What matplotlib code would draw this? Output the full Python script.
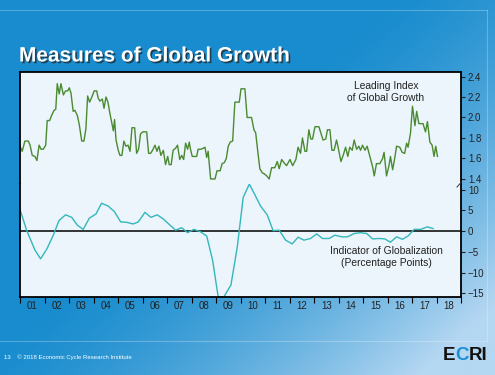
import numpy as np
import matplotlib
matplotlib.use("Agg")
import matplotlib.pyplot as plt
import matplotlib.patheffects as pe
from matplotlib.lines import Line2D

plt.rcParams['font.family'] = ['Liberation Sans', 'DejaVu Sans']

# Leading Index of Global Growth (decimal year, value)
lead_t = [2001.00, 2001.09, 2001.20, 2001.34, 2001.41, 2001.50, 2001.61, 2001.69, 2001.78, 2001.86,
          2001.95, 2002.05, 2002.11, 2002.21, 2002.29, 2002.39, 2002.46, 2002.52, 2002.60, 2002.67,
          2002.77, 2002.86, 2002.95, 2003.01, 2003.08, 2003.17, 2003.24, 2003.34, 2003.42, 2003.52,
          2003.61, 2003.69, 2003.76, 2003.84, 2003.95, 2004.03, 2004.13, 2004.19, 2004.26, 2004.36,
          2004.43, 2004.51, 2004.59, 2004.67, 2004.75, 2004.81, 2004.86, 2004.92, 2005.01, 2005.08,
          2005.16, 2005.24, 2005.32, 2005.41, 2005.49, 2005.57, 2005.68, 2005.76, 2005.84, 2005.92,
          2006.01, 2006.17, 2006.25, 2006.33, 2006.41, 2006.51, 2006.59, 2006.67, 2006.75, 2006.85,
          2006.94, 2007.03, 2007.09, 2007.17, 2007.25, 2007.35, 2007.43, 2007.52, 2007.60, 2007.68,
          2007.76, 2007.84, 2007.91, 2007.95, 2008.03, 2008.21, 2008.27, 2008.38, 2008.48, 2008.55,
          2008.62, 2008.68, 2008.78, 2008.96, 2009.04, 2009.17, 2009.25, 2009.34, 2009.42, 2009.50,
          2009.58, 2009.68, 2009.77, 2009.95, 2010.02, 2010.18, 2010.27, 2010.45, 2010.55, 2010.62,
          2010.70, 2010.79, 2010.89, 2010.97, 2011.07, 2011.17, 2011.27, 2011.40, 2011.50, 2011.58,
          2011.68, 2011.77, 2011.88, 2012.02, 2012.13, 2012.26, 2012.35, 2012.45, 2012.53, 2012.63,
          2012.70, 2012.79, 2012.87, 2012.94, 2013.04, 2013.20, 2013.28, 2013.37, 2013.48, 2013.55,
          2013.65, 2013.73, 2013.82, 2013.92, 2014.00, 2014.10, 2014.19, 2014.29, 2014.38, 2014.46,
          2014.56, 2014.64, 2014.74, 2014.83, 2014.90, 2014.98, 2015.08, 2015.17, 2015.28, 2015.39,
          2015.46, 2015.55, 2015.69, 2015.80, 2015.86, 2015.96, 2016.06, 2016.12, 2016.21, 2016.30,
          2016.37, 2016.50, 2016.60, 2016.70, 2016.78, 2016.84, 2016.94, 2017.02, 2017.12, 2017.19,
          2017.28, 2017.45, 2017.55, 2017.63, 2017.73, 2017.82, 2017.90, 2017.97, 2018.04]
lead_v = [1.72, 1.67, 1.77, 1.77, 1.73, 1.63, 1.62, 1.58, 1.73, 1.69,
          1.69, 1.73, 1.97, 1.97, 2.02, 2.07, 2.08, 2.33, 2.23, 2.33,
          2.22, 2.26, 2.26, 2.29, 2.24, 2.06, 2.07, 2.02, 1.93, 1.77,
          1.77, 1.89, 2.21, 2.15, 2.21, 2.26, 2.26, 2.19, 2.16, 2.18,
          2.09, 2.20, 2.15, 2.04, 1.94, 1.87, 1.98, 1.78, 1.68, 1.63,
          1.63, 1.77, 1.72, 1.73, 1.67, 1.90, 1.90, 1.65, 1.69, 1.84,
          1.86, 1.86, 1.65, 1.65, 1.68, 1.73, 1.67, 1.72, 1.63, 1.68,
          1.54, 1.62, 1.54, 1.54, 1.68, 1.70, 1.73, 1.59, 1.63, 1.59,
          1.75, 1.69, 1.76, 1.70, 1.62, 1.62, 1.69, 1.69, 1.70, 1.71,
          1.61, 1.67, 1.40, 1.40, 1.48, 1.48, 1.55, 1.56, 1.60, 1.72,
          1.76, 1.77, 2.15, 2.15, 2.28, 2.28, 2.00, 2.00, 1.88, 1.85,
          1.68, 1.50, 1.46, 1.45, 1.43, 1.40, 1.51, 1.51, 1.57, 1.50,
          1.59, 1.56, 1.53, 1.59, 1.53, 1.59, 1.71, 1.65, 1.80, 1.67,
          1.67, 1.88, 1.79, 1.79, 1.91, 1.91, 1.85, 1.78, 1.79, 1.88,
          1.88, 1.68, 1.68, 1.78, 1.69, 1.57, 1.63, 1.71, 1.62, 1.71,
          1.68, 1.78, 1.69, 1.72, 1.68, 1.73, 1.68, 1.72, 1.62, 1.52,
          1.43, 1.55, 1.55, 1.60, 1.66, 1.43, 1.53, 1.62, 1.49, 1.61,
          1.72, 1.71, 1.66, 1.65, 1.75, 1.71, 1.85, 2.11, 1.92, 2.06,
          1.94, 1.94, 1.86, 1.96, 1.76, 1.73, 1.62, 1.72, 1.62]

# Indicator of Globalization, quarterly (percentage points)
glob_t = [2001.00, 2001.27, 2001.61, 2001.84, 2002.09, 2002.36, 2002.59, 2002.86, 2003.11, 2003.34,
          2003.58, 2003.83, 2004.10, 2004.33, 2004.60, 2004.85, 2005.11, 2005.35, 2005.62, 2005.83,
          2006.10, 2006.34, 2006.60, 2006.85, 2007.09, 2007.35, 2007.60, 2007.84, 2008.10, 2008.37,
          2008.62, 2008.86, 2009.09, 2009.32, 2009.61, 2009.87, 2010.11, 2010.36, 2010.59, 2010.82,
          2011.09, 2011.33, 2011.58, 2011.84, 2012.11, 2012.35, 2012.59, 2012.86, 2013.11, 2013.35,
          2013.62, 2013.85, 2014.13, 2014.37, 2014.64, 2014.90, 2015.15, 2015.39, 2015.66, 2015.89,
          2016.12, 2016.37, 2016.61, 2016.84, 2017.09, 2017.36, 2017.62, 2017.86]
glob_v = [5.2, 0.2, -4.6, -6.7, -4.4, -1.0, 2.5, 3.9, 3.3, 1.4,
          0.4, 3.1, 4.1, 6.7, 6.0, 4.7, 2.2, 2.1, 1.7, 2.2,
          4.5, 3.3, 3.9, 2.9, 1.6, 0.2, 0.8, -0.4, 0.4, -0.2,
          -1.2, -7.0, -15.9, -15.9, -13.0, -3.8, 8.1, 11.3, 8.7, 6.0,
          3.9, 0.1, 0.2, -2.2, -3.1, -1.5, -2.2, -1.8, -0.7, -1.8,
          -1.8, -1.0, -1.4, -1.4, -0.6, -0.4, -0.6, -1.9, -1.8, -1.9,
          -2.7, -1.4, -2.0, -1.2, 0.4, 0.4, 1.0, 0.6]

years = list(range(2001, 2020))
year_labels = ["%02d" % (y % 100) for y in range(2001, 2019)]
lead_ticks = [1.4, 1.6, 1.8, 2.0, 2.2, 2.4]
glob_ticks = [-15, -10, -5, 0, 5, 10]

W, H = 495, 375
fig = plt.figure(figsize=(W / 100, H / 100), dpi=100)

# slide background gradient
bg = fig.add_axes([0, 0, 1, 1], zorder=-10)
gx, gy = np.meshgrid(np.linspace(0, 1, 200), np.linspace(0, 1, 150))
t = np.clip((gx * 0.65 + gy * 0.55 - 0.5) / 0.6, 0, 1) ** 1.5
c0 = np.array([24, 140, 206]) / 255
c1 = np.array([180, 215, 242]) / 255
img = c0[None, None, :] * (1 - t[..., None]) + c1[None, None, :] * t[..., None]
bg.imshow(img, extent=[0, 1, 0, 1], aspect="auto", origin="upper")
bg.set_xlim(0, 1)
bg.set_ylim(0, 1)
bg.axis("off")

# faint frame lines of the slide
fc = (1, 1, 1, 0.25)
bg.add_line(Line2D([0, 487 / W], [1 - 10 / H, 1 - 10 / H], color=fc, lw=0.8))
bg.add_line(Line2D([487 / W, 487 / W], [1 - 10 / H, 1 - 341 / H], color=fc, lw=0.8))
bg.add_line(Line2D([0, 487 / W], [1 - 341 / H, 1 - 341 / H], color=fc, lw=0.8))

left, right = 20 / W, 461 / W
ax1 = fig.add_axes([left, 1 - 184 / H, right - left, (184 - 72) / H])
ax2 = fig.add_axes([left, 1 - 297 / H, right - left, (297 - 184) / H])

plot_bg = "#ebf5fb"
for ax in (ax1, ax2):
    ax.set_facecolor(plot_bg)
    ax.set_xlim(2001, 2019)
    for s in ax.spines.values():
        s.set_color("black")
        s.set_linewidth(1.3)
    ax.yaxis.tick_right()
    ax.tick_params(axis="y", which="both", right=True, left=False, length=3, width=0.8,
                   labelsize=7, colors="#222222", pad=2)

ax1.spines["bottom"].set_visible(False)
ax2.spines["top"].set_visible(False)

ax1.plot(lead_t, lead_v, color="#4a8a30", lw=1.0)
ax1.set_ylim(1.351, 2.444)
ax1.set_yticks(lead_ticks)
ax1.set_yticklabels(["%.1f" % v for v in lead_ticks])
ax1.set_xticks([])

ax2.axhline(0, color="black", lw=1.1)
ax2.plot(glob_t, glob_v, color="#33b7bb", lw=1.0)
ax2.set_ylim(-15.9, 11.33)
ax2.set_yticks(glob_ticks)
ax2.set_xticks(years)
ax2.set_xticklabels([])
ax2.set_xticks([y + 0.5 for y in years[:-1]], minor=True)
ax2.set_xticklabels(year_labels, minor=True)
ax2.tick_params(axis="x", which="major", length=4, width=0.8, direction="out")
ax2.tick_params(axis="x", which="minor", length=0, labelsize=7, colors="#222222", pad=3)

# break mark on the right axis
fig.add_artist(Line2D([457 / W, 461.5 / W], [1 - 187 / H, 1 - 182 / H], color="#333333", lw=0.7))

ax1.text(0.83, 0.82, "Leading Index\nof Global Growth", transform=ax1.transAxes,
         ha="center", va="center", fontsize=7.4, color="#222222", linespacing=1.2)
ax2.text(0.83, 0.355, "Indicator of Globalization\n(Percentage Points)", transform=ax2.transAxes,
         ha="center", va="center", fontsize=7.4, color="#222222", linespacing=1.2)

fig.text(19 / W, 1 - 56 / H, "Measures of Global Growth", ha="left", va="center",
         fontsize=15, fontweight="bold", color="white",
         path_effects=[pe.withSimplePatchShadow(offset=(1.2, -1.2), shadow_rgbFace="#202020", alpha=0.7)])

fig.text(4 / W, 1 - 357 / H, "13    \u00a9 2018 Economic Cycle Research Institute", ha="left", va="center",
         fontsize=4.3, color="white")

te = fig.text(443 / W, 1 - 355 / H, "E", ha="left", va="center", fontsize=13.5,
              fontweight="bold", color="#111111")
ac = bg.annotate("C", xy=(1, 0), xycoords=te, ha="left", va="bottom", fontsize=13.5,
                 fontweight="bold", color="#1a8fd4")
bg.annotate("RI", xy=(1, 0), xycoords=ac, ha="left", va="bottom", fontsize=13.5,
            fontweight="bold", color="#111111")

fig.savefig("out.png", dpi=100)
